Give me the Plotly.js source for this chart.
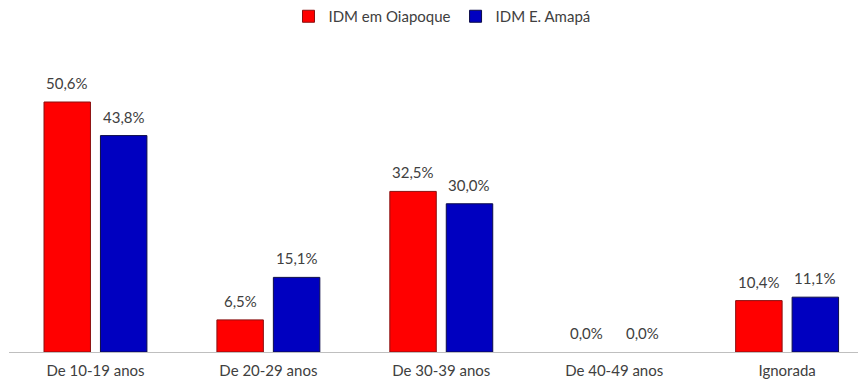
<!DOCTYPE html>
<html>
<head>
<meta charset="utf-8">
<script src="https://cdn.plot.ly/plotly-3.0.1.min.js"></script>
<style>
  html, body { margin: 0; padding: 0; background: #ffffff; }
  #chart { width: 858px; height: 380px; }
</style>
</head>
<body>
<div id="chart"></div>
<script>
// Faixa etária das gestantes: IDM em Oiapoque vs. Estado do Amapá (%)
const categories = ["De 10-19 anos", "De 20-29 anos", "De 30-39 anos", "De 40-49 anos", "Ignorada"];
const oiapoque = [50.6, 6.5, 32.5, 0.0, 10.4];
const amapa = [43.8, 15.1, 30.0, 0.0, 11.1];
const seriesNames = ["IDM em Oiapoque", "IDM E. Amapá"];

const FONT = "Lato, 'Open Sans', 'DejaVu Sans', sans-serif";
const TEXT = "#404040";

function pct(v) {
  return v.toFixed(1).replace(".", ",") + "%";
}

// no outline on empty bars so nothing is drawn for 0,0%
function outline(vals) {
  return vals.map(v => (v > 0 ? 1 : 0));
}

const traces = [
  {
    type: "bar",
    name: seriesNames[0],
    x: categories,
    y: oiapoque,
    marker: { color: "#ff0000", line: { color: "#8a1010", width: outline(oiapoque) } },
    hoverinfo: "skip"
  },
  {
    type: "bar",
    name: seriesNames[1],
    x: categories,
    y: amapa,
    marker: { color: "#0000c0", line: { color: "#0c0c48", width: outline(amapa) } },
    hoverinfo: "skip"
  }
];

// value labels above each bar, offset to the bar's slot within its group
const offset = 0.163;
const annotations = [];
[oiapoque, amapa].forEach((vals, s) => {
  vals.forEach((v, i) => {
    annotations.push({
      x: i + (s === 0 ? -offset : offset),
      y: v,
      xref: "x",
      yref: "y",
      text: pct(v),
      showarrow: false,
      yanchor: "bottom",
      yshift: 8,
      font: { family: FONT, size: 15, color: TEXT }
    });
  });
});

const layout = {
  width: 858,
  height: 380,
  margin: { l: 9, r: 0, t: 60, b: 28, autoexpand: false },
  paper_bgcolor: "#ffffff",
  plot_bgcolor: "#ffffff",
  barmode: "group",
  bargap: 0.347,
  bargroupgap: 0.177,
  showlegend: true,
  legend: {
    orientation: "h",
    x: 0.51,
    xanchor: "center",
    yref: "container",
    y: 1,
    yanchor: "top",
    font: { family: FONT, size: 15, color: TEXT },
    itemwidth: 30,
    traceorder: "normal"
  },
  xaxis: {
    type: "category",
    range: [-0.5, 4.41],
    showline: true,
    linecolor: "#bfbfbf",
    linewidth: 1,
    ticks: "",
    ticklabelstandoff: 5,
    showgrid: false,
    zeroline: false,
    tickfont: { family: FONT, size: 15, color: TEXT },
    fixedrange: true
  },
  yaxis: {
    range: [0, 59.1],
    visible: false,
    showgrid: false,
    zeroline: false,
    fixedrange: true
  },
  annotations: annotations
};

Plotly.newPlot("chart", traces, layout, { displayModeBar: false, staticPlot: true });
</script>
</body>
</html>
